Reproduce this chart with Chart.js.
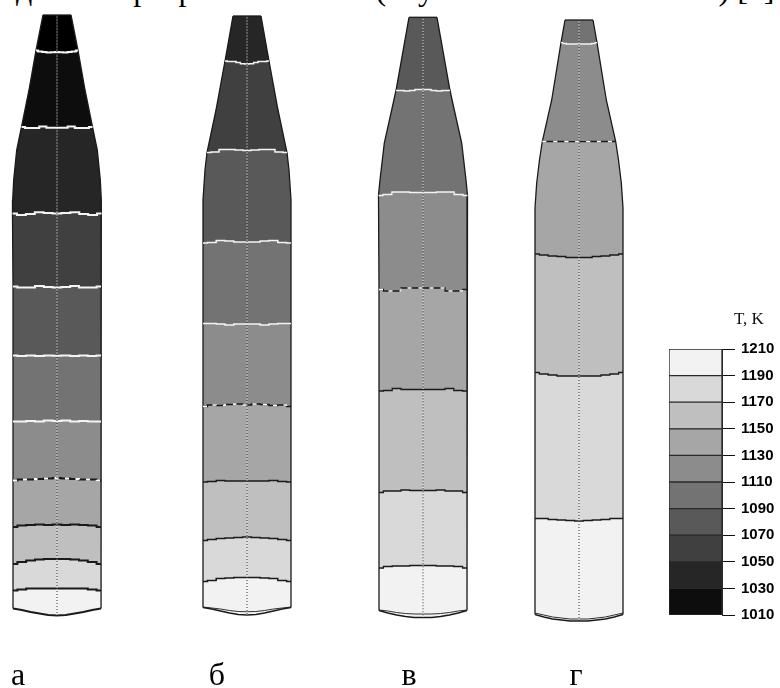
<!DOCTYPE html>
<html>
<head>
<meta charset="utf-8">
<style>
body { margin: 0; background: #fff; overflow: hidden; }
#page { position: relative; width: 780px; height: 688px; overflow: hidden; background: #fff; }
canvas { position: absolute; }
#topline { position: absolute; left: 16px; top: -29px; font: 32px "Liberation Serif", serif; white-space: nowrap; color: #000; }
#unit { position: absolute; left: 734px; top: 309px; font: 17px "Liberation Serif", serif; color: #111; }
</style>
</head>
<body>
<div id="page">
<div id="topline">дены в программе CGSim (Crystal Growth Simulator) [4]</div>
<canvas id="crystals" width="780" height="688" style="left:0;top:0"></canvas>
<div id="unit">T, K</div>
<canvas id="scalebar" width="125" height="300" style="left:655px;top:330px"></canvas>
</div>
<script src="https://cdn.jsdelivr.net/npm/chart.js@4/dist/chart.umd.min.js"></script>
<script>
// crystal captions and where they sit along the x axis
var crystalNames = ['а', 'б', 'в', 'г'];
var crystalNameX = [18, 217, 409, 576];

// isotherm samples, from the axis (0) out to the wall (1)
var lineFrac = [0, 0.2, 0.4, 0.6, 0.8, 1];

// crystal а
var a_center = 57;
var a_temps = [1010, 1030, 1050, 1070, 1090, 1110, 1130, 1150, 1170, 1190];
var a_half = [14, 21, 35.5, 44.5, 44, 44, 44, 44, 44, 44, 44, 44];
var a_lines = [
    [15, 15, 15, 15, 15, 15],
    [52, 52.3, 52.5, 52, 51.5, 50.5],
    [127.7, 127.7, 126.5, 128, 128, 127],
    [213.5, 213, 212.3, 214, 215, 213.5],
    [287.5, 287, 286, 287.5, 287.5, 286.5],
    [355.7, 355.5, 356, 355.5, 356, 355.5],
    [421, 420.5, 421.5, 421, 421.5, 421.5],
    [478, 478.5, 479, 479.5, 479.5, 480.5],
    [524.5, 525, 524.5, 525, 525.5, 527],
    [559, 559, 559.5, 560.5, 562, 564],
    [588.5, 588.5, 588.5, 588.5, 589.5, 590.5],
    [615.5, 615, 613.5, 612, 610, 608.5]
];
var a_sideY = [90, 150, 180, 200];
var a_sideW = [28, 40.3, 43.3, 44.3];
var a_inner = null;

// crystal б
var b_center = 247;
var b_temps = [1050, 1070, 1090, 1110, 1130, 1150, 1170, 1190];
var b_half = [14, 22, 40, 44, 44, 44, 44, 44, 44, 44];
var b_lines = [
    [16, 16, 16, 16, 16, 16],
    [64, 63.7, 62.5, 61.5, 61.5, 61],
    [150.5, 150, 149.5, 149.5, 152, 152.5],
    [242, 242, 241, 240.5, 242.5, 243],
    [324, 324, 325, 324, 323.5, 323.5],
    [405, 404, 404.5, 405.5, 405, 406.5],
    [481, 481, 481, 480.5, 481.5, 482],
    [537, 537.5, 538, 538.5, 539.5, 540.5],
    [577.5, 577.5, 578, 578.5, 580.5, 581.5],
    [615, 614.5, 613, 611, 609, 607.5]
];
var b_sideY = [110, 170, 200];
var b_sideW = [31, 42, 44];
var b_inner = [611.7, 611.5, 610.5, 609, 608, 607];

// crystal в
var c_center = 423;
var c_temps = [1090, 1110, 1130, 1150, 1170, 1190];
var c_half = [14, 27, 44.5, 44, 44, 44, 44, 44];
var c_lines = [
    [17.3, 17.3, 17.3, 17.3, 17.3, 17.3],
    [89.5, 89.5, 90.5, 91, 90.5, 90.5],
    [192.5, 192.5, 192, 192, 194.5, 195.5],
    [288, 288, 288, 291, 291, 289.5],
    [389.5, 389.5, 389.5, 388.5, 390.5, 391],
    [490.5, 490.5, 490, 491, 491, 492.5],
    [565.5, 565.5, 566, 566, 566.5, 568],
    [617.5, 617.5, 616.5, 615, 613, 610.5]
];
var c_sideY = [110, 143, 180];
var c_sideW = [31.3, 38.7, 43];
var c_inner = [614, 614, 613.5, 612.5, 611, 610];

// crystal г
var d_center = 579;
var d_temps = [1110, 1130, 1150, 1170, 1190];
var d_half = [14, 18, 36.7, 44, 44, 44, 44];
var d_lines = [
    [20, 20, 20, 20, 20, 20],
    [44, 44, 44, 44, 43.5, 42.7],
    [141.7, 141.7, 141.5, 141.5, 141.5, 141.5],
    [257.5, 257.5, 256.5, 256, 255, 254],
    [376, 376, 376, 375, 374, 372.5],
    [521, 520.5, 520, 519.5, 518.5, 518.5],
    [621, 621, 620, 619, 617, 614.5]
];
var d_sideY = [100, 160, 183, 208];
var d_sideW = [27.3, 39.5, 42.3, 44];
var d_inner = [619, 619, 618, 617, 615, 613];

// temperature scale
var scaleTicks = [1010, 1030, 1050, 1070, 1090, 1110, 1130, 1150, 1170, 1190, 1210];
var scaleGrays = ['#0d0d0d', '#262626', '#404040', '#595959', '#737373', '#8c8c8c', '#a6a6a6', '#bfbfbf', '#d9d9d9', '#f2f2f2'];

var crystals = [
    {center: a_center, temps: a_temps, half: a_half, lines: a_lines, sideY: a_sideY, sideW: a_sideW, inner: a_inner, width: 2},
    {center: b_center, temps: b_temps, half: b_half, lines: b_lines, sideY: b_sideY, sideW: b_sideW, inner: b_inner, width: 1.5},
    {center: c_center, temps: c_temps, half: c_half, lines: c_lines, sideY: c_sideY, sideW: c_sideW, inner: c_inner, width: 1.3},
    {center: d_center, temps: d_temps, half: d_half, lines: d_lines, sideY: d_sideY, sideW: d_sideW, inner: d_inner, width: 1.3}
];

function shadeFor(upperTemp) {
    var i = (upperTemp - scaleTicks[0]) / 20 - 1;
    return i < 0 ? '#000000' : scaleGrays[i];
}

function mirrored(c, half, ys) {
    var pts = [];
    var k;
    for (k = lineFrac.length - 1; k > 0; k--) {
        pts.push({x: c.center - lineFrac[k] * half, y: ys[k]});
    }
    for (k = 0; k < lineFrac.length; k++) {
        pts.push({x: c.center + lineFrac[k] * half, y: ys[k]});
    }
    return pts;
}

function linePoints(c, i) {
    return mirrored(c, c.half[i], c.lines[i]);
}

function sideBetween(c, i, sign) {
    var yTop = c.lines[i][5];
    var yBottom = c.lines[i + 1][5];
    var pts = [];
    c.sideY.forEach(function (y, n) {
        if (y > yTop && y < yBottom) {
            pts.push({x: c.center + sign * c.sideW[n], y: y});
        }
    });
    return pts;
}

function bandPolygon(c, i) {
    var pts = linePoints(c, i);
    pts = pts.concat(sideBetween(c, i, 1));
    pts = pts.concat(linePoints(c, i + 1).reverse());
    pts = pts.concat(sideBetween(c, i, -1).reverse());
    pts.push(pts[0]);
    return pts;
}

function wallPath(c, sign) {
    var pts = [];
    for (var i = 0; i < c.lines.length; i++) {
        pts.push({x: c.center + sign * c.half[i], y: c.lines[i][5]});
        if (i < c.lines.length - 1) {
            pts = pts.concat(sideBetween(c, i, sign));
        }
    }
    return pts;
}

function lineSet(data, color, width, order, dash, stepped) {
    return {
        data: data,
        showLine: true,
        fill: false,
        borderColor: color,
        borderWidth: width,
        borderDash: dash || [],
        stepped: stepped || false,
        pointRadius: 0,
        order: order
    };
}

var datasets = [];
crystals.forEach(function (c) {
    var last = c.lines.length - 1;
    for (var i = 0; i < last; i++) {
        var upper = i === 0 ? c.temps[0] : c.temps[i - 1] + 20;
        datasets.push({
            data: bandPolygon(c, i),
            showLine: true,
            fill: 'shape',
            backgroundColor: shadeFor(upper),
            borderWidth: 0,
            pointRadius: 0,
            order: 5
        });
    }
    datasets.push(lineSet(wallPath(c, -1), '#1a1a1a', 1.3, 4));
    datasets.push(lineSet(wallPath(c, 1), '#1a1a1a', 1.3, 4));
    datasets.push(lineSet(linePoints(c, 0), '#1a1a1a', 1.3, 3));
    datasets.push(lineSet(linePoints(c, last), '#1a1a1a', c.width, 3));
    if (c.inner) {
        datasets.push(lineSet(mirrored(c, c.half[last], c.inner), '#333333', 1, 3));
    }
    c.temps.forEach(function (t, n) {
        var pts = linePoints(c, n + 1);
        if (t < 1130) {
            datasets.push(lineSet(pts, '#f4f4f4', c.width, 3, null, 'middle'));
        } else {
            datasets.push(lineSet(pts, '#1a1a1a', c.width, 3, null, 'middle'));
            if (t === 1130) {
                datasets.push(lineSet(pts, '#ffffff', c.width, 2, [4, 7], 'middle'));
            }
        }
    });
    var axisPts = [{x: c.center, y: c.lines[0][0]}, {x: c.center, y: c.lines[last][0]}];
    datasets.push(lineSet(axisPts, '#333333', 1, 1, [1, 2]));
    var whiteDots = lineSet(axisPts, '#ffffff', 1, 1, [1, 2]);
    whiteDots.borderDashOffset = 1.5;
    datasets.push(whiteDots);
});

new Chart(document.getElementById('crystals'), {
    type: 'scatter',
    data: {datasets: datasets},
    options: {
        responsive: false,
        animation: false,
        events: [],
        layout: {autoPadding: false, padding: 0},
        plugins: {legend: {display: false}, tooltip: {enabled: false}},
        scales: {
            x: {
                type: 'linear',
                min: 0,
                max: 780,
                grid: {display: false},
                border: {display: false},
                afterFit: function (s) { s.height = 39; },
                afterBuildTicks: function (s) {
                    s.ticks = crystalNameX.map(function (v) { return {value: v}; });
                },
                ticks: {
                    autoSkip: false,
                    maxRotation: 0,
                    padding: 0,
                    color: '#000',
                    font: {family: '"Liberation Serif", serif', size: 32},
                    callback: function (v) { return crystalNames[crystalNameX.indexOf(v)]; }
                }
            },
            y: {type: 'linear', display: false, min: 0, max: 649, reverse: true}
        }
    }
});

var scaleSets = scaleGrays.map(function (g, i) {
    return {
        data: [[scaleTicks[i], scaleTicks[i + 1]]],
        backgroundColor: g,
        borderColor: '#2a2a2a',
        borderWidth: 1,
        borderSkipped: false,
        barPercentage: 1,
        categoryPercentage: 1
    };
});

new Chart(document.getElementById('scalebar'), {
    type: 'bar',
    data: {labels: ['T'], datasets: scaleSets},
    options: {
        responsive: false,
        animation: false,
        events: [],
        layout: {autoPadding: false, padding: {left: 14, top: 19, bottom: 13, right: 0}},
        plugins: {legend: {display: false}, tooltip: {enabled: false}},
        scales: {
            x: {display: false, stacked: true},
            y: {
                position: 'right',
                min: 1010,
                max: 1210,
                afterFit: function (s) { s.width = 58; },
                afterBuildTicks: function (s) {
                    s.ticks = scaleTicks.map(function (v) { return {value: v}; });
                },
                border: {color: '#2a2a2a'},
                grid: {drawOnChartArea: false, tickLength: 13, color: '#111'},
                ticks: {
                    padding: 6,
                    color: '#000',
                    font: {family: '"Liberation Sans", sans-serif', size: 15, weight: 'bold'},
                    callback: function (v) { return String(v); }
                }
            }
        }
    }
});
</script>
</body>
</html>
